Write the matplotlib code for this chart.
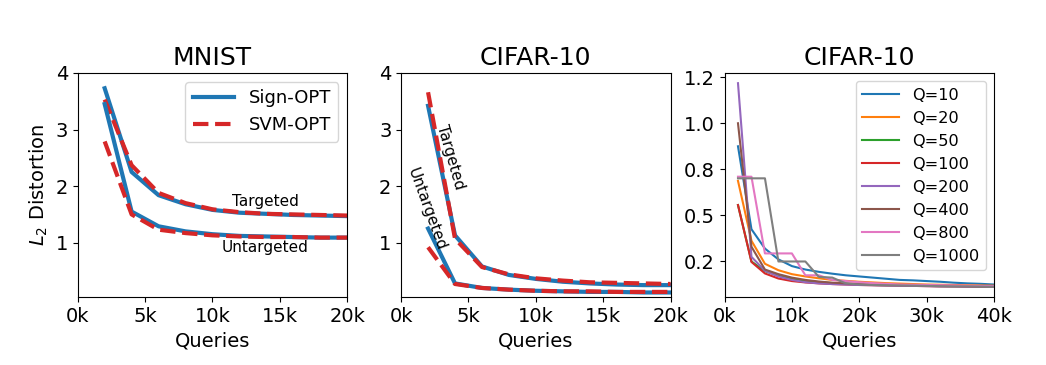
import numpy as np
import matplotlib
matplotlib.use('Agg')
import matplotlib.pyplot as plt

# 横轴: 查询次数 (单位 k)
queries = [2, 4, 6, 8, 10, 12, 14, 16, 18, 20]

# MNIST
mnist_sign_t = [3.73, 2.25, 1.84, 1.68, 1.58, 1.53, 1.51, 1.49, 1.48, 1.47]
mnist_svm_t = [3.53, 2.37, 1.88, 1.70, 1.59, 1.54, 1.51, 1.50, 1.49, 1.48]
mnist_sign_u = [3.45, 1.55, 1.29, 1.20, 1.15, 1.12, 1.11, 1.10, 1.09, 1.09]
mnist_svm_u = [2.79, 1.50, 1.23, 1.17, 1.13, 1.11, 1.10, 1.10, 1.09, 1.09]

# CIFAR-10
cifar_sign_t = [3.42, 1.13, 0.58, 0.43, 0.36, 0.31, 0.28, 0.26, 0.25, 0.25]
cifar_svm_t = [3.66, 1.07, 0.57, 0.44, 0.37, 0.33, 0.30, 0.29, 0.28, 0.27]
cifar_sign_u = [1.25, 0.28, 0.20, 0.17, 0.15, 0.14, 0.13, 0.13, 0.12, 0.12]
cifar_svm_u = [0.92, 0.27, 0.20, 0.17, 0.15, 0.14, 0.14, 0.13, 0.13, 0.13]

# CIFAR-10, 不同 Q
queries_q = [2, 4, 6, 8, 10, 12, 14, 16, 18, 20, 22, 24, 26, 28, 30, 32, 34, 36, 38, 40]
q_labels = ['Q=10', 'Q=20', 'Q=50', 'Q=100', 'Q=200', 'Q=400', 'Q=800', 'Q=1000']
q10 = [0.90, 0.54, 0.456, 0.409, 0.38, 0.365, 0.355, 0.347, 0.34, 0.335,
       0.33, 0.325, 0.32, 0.318, 0.315, 0.312, 0.308, 0.305, 0.303, 0.30]
q20 = [0.75, 0.49, 0.39, 0.362, 0.345, 0.335, 0.327, 0.32, 0.316, 0.312,
       0.309, 0.306, 0.304, 0.302, 0.30, 0.299, 0.298, 0.297, 0.296, 0.295]
q50 = [0.645, 0.40, 0.358, 0.338, 0.325, 0.316, 0.31, 0.306, 0.303, 0.30,
       0.298, 0.297, 0.296, 0.295, 0.294, 0.293, 0.292, 0.292, 0.291, 0.291]
q100 = [0.645, 0.398, 0.348, 0.326, 0.315, 0.309, 0.305, 0.302, 0.30, 0.298,
        0.297, 0.296, 0.295, 0.294, 0.293, 0.292, 0.292, 0.291, 0.291, 0.29]
q200 = [1.174, 0.42, 0.36, 0.335, 0.32, 0.31, 0.305, 0.302, 0.30, 0.298,
        0.297, 0.296, 0.295, 0.294, 0.293, 0.292, 0.292, 0.291, 0.291, 0.29]
q400 = [1.00, 0.464, 0.365, 0.345, 0.33, 0.32, 0.313, 0.308, 0.305, 0.302,
        0.30, 0.299, 0.298, 0.297, 0.296, 0.295, 0.294, 0.293, 0.292, 0.292]
q800 = [0.768, 0.768, 0.435, 0.435, 0.435, 0.34, 0.34, 0.32, 0.315, 0.31,
        0.306, 0.303, 0.30, 0.299, 0.298, 0.297, 0.296, 0.295, 0.294, 0.293]
q1000 = [0.761, 0.761, 0.761, 0.40, 0.40, 0.40, 0.333, 0.33, 0.305, 0.30,
         0.298, 0.297, 0.296, 0.295, 0.294, 0.293, 0.292, 0.292, 0.291, 0.29]
q_series = [q10, q20, q50, q100, q200, q400, q800, q1000]
# 原图右侧纵轴刻度标签
q_yticks = [0.4, 0.6, 0.8, 1.0, 1.2]
q_yticklabels = ['0.2', '0.5', '0.8', '1.0', '1.2']

blue = '#1f77b4'
red = '#d62728'

fig, axes = plt.subplots(1, 3, figsize=(10.46, 3.65), dpi=100)
plt.subplots_adjust(left=0.0743, right=0.9503, bottom=0.1863, top=0.8, wspace=0.2)

# 前两个子图
panels = [
    (axes[0], 'MNIST', mnist_sign_t, mnist_svm_t, mnist_sign_u, mnist_svm_u),
    (axes[1], 'CIFAR-10', cifar_sign_t, cifar_svm_t, cifar_sign_u, cifar_svm_u),
]
for ax, title, st, vt, su, vu in panels:
    ax.plot(queries, st, color=blue, linewidth=3, label='Sign-OPT')
    ax.plot(queries, vt, color=red, linewidth=3, linestyle='--', label='SVM-OPT')
    ax.plot(queries, su, color=blue, linewidth=3)
    ax.plot(queries, vu, color=red, linewidth=3, linestyle='--')
    ax.set_title(title, fontsize=18)
    ax.set_xlim(0, 20)
    ax.set_ylim(0.04, 4)
    ax.set_xticks([0, 5, 10, 15, 20])
    ax.set_xticklabels(['0k', '5k', '10k', '15k', '20k'])
    ax.set_yticks([1, 2, 3, 4])
    ax.set_xlabel('Queries', fontsize=14)
    ax.tick_params(labelsize=14)

axes[0].set_ylabel('$L_2$ Distortion', fontsize=14)
axes[0].legend(loc='upper right', fontsize=13, handlelength=2.3)
axes[0].text(13.9, 1.72, 'Targeted', fontsize=11, ha='center', va='center')
axes[0].text(13.9, 0.92, 'Untargeted', fontsize=11, ha='center', va='center')
axes[1].text(3.65, 2.51, 'Targeted', fontsize=11, ha='center', va='center', rotation=-74)
axes[1].text(1.9, 1.6, 'Untargeted', fontsize=11, ha='center', va='center', rotation=-70)

# 第三个子图
ax = axes[2]
for vals, lab in zip(q_series, q_labels):
    ax.plot(queries_q, vals, linewidth=1.5, label=lab)
ax.set_title('CIFAR-10', fontsize=18)
ax.set_xlim(0, 40)
ax.set_xticks([0, 10, 20, 30, 40])
ax.set_xticklabels(['0k', '10k', '20k', '30k', '40k'])
ax.set_yticks(q_yticks)
ax.set_yticklabels(q_yticklabels)
ax.set_xlabel('Queries', fontsize=14)
ax.tick_params(labelsize=14)
ax.legend(loc='upper right', fontsize=11.6, handlelength=2.3)

plt.savefig('out.png', dpi=100)
